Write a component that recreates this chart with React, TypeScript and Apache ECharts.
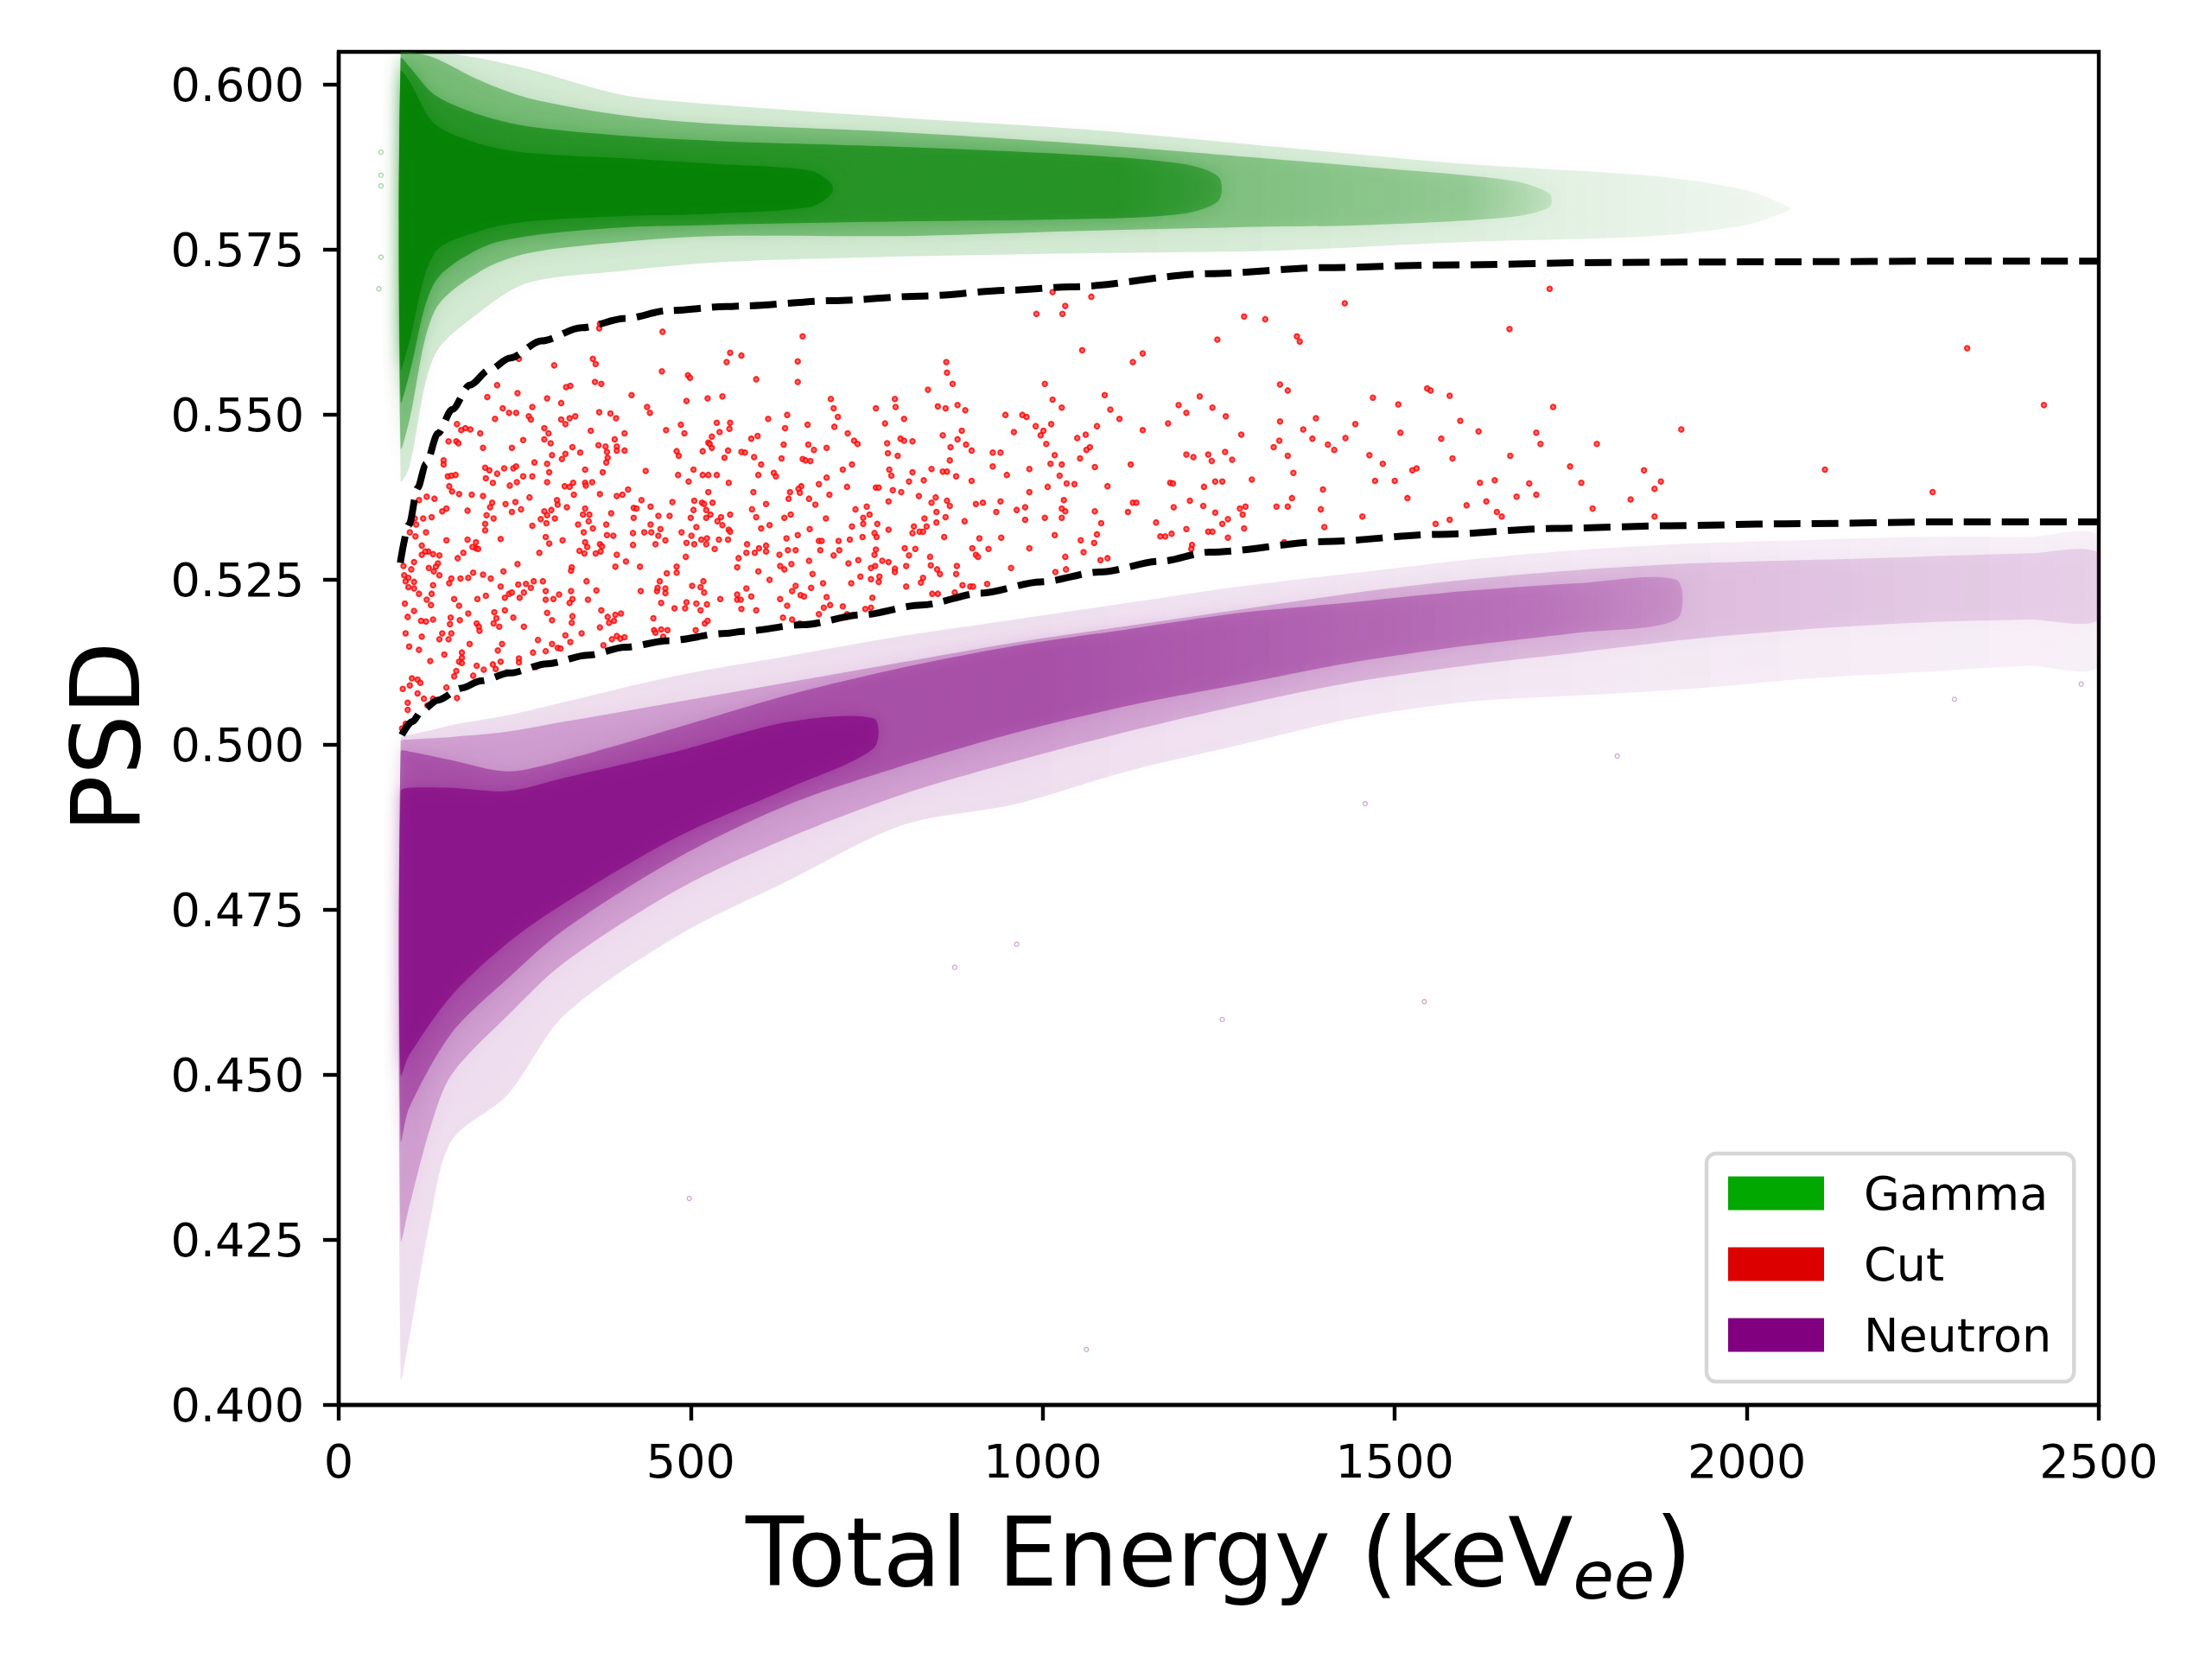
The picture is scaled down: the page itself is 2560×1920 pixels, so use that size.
import React, { useEffect, useRef } from 'react';
import * as echarts from 'echarts';

// ---------- axes ----------
const xTicks = [0, 500, 1000, 1500, 2000, 2500];
const yTicks = [0.4, 0.425, 0.45, 0.475, 0.5, 0.525, 0.55, 0.575, 0.6];
const legendNames = ['Gamma', 'Cut', 'Neutron'];
const legendColors = ['#00a800', '#dd0000', '#800080'];

// ---------- cut boundaries (dashed) ----------
const upperCutE = [87.5, 100, 112, 124, 141, 161, 186, 214, 243, 288, 345, 407, 468, 550, 574, 701, 828, 955, 1039, 1237, 1400, 1563, 1808, 2053, 2298, 2500];
const upperCutPsd = [0.5276, 0.5334, 0.5389, 0.5426, 0.5472, 0.5508, 0.5545, 0.5568, 0.5586, 0.5612, 0.5632, 0.5646, 0.5658, 0.5664, 0.5665, 0.5673, 0.568, 0.5689, 0.5694, 0.5714, 0.5723, 0.5727, 0.5731, 0.5732, 0.5733, 0.5733];
const lowerCutE = [89.6, 104, 120, 141, 174, 202, 243, 296, 354, 407, 468, 550, 574, 659, 743, 828, 913, 997, 1082, 1166, 1237, 1400, 1563, 1727, 1890, 2053, 2298, 2500];
const lowerCutPsd = [0.5015, 0.5035, 0.5054, 0.5068, 0.5086, 0.5097, 0.5109, 0.5123, 0.5136, 0.5148, 0.5158, 0.5169, 0.5172, 0.5182, 0.5197, 0.5212, 0.523, 0.5247, 0.5262, 0.5278, 0.5292, 0.5308, 0.5319, 0.5328, 0.5332, 0.5335, 0.5338, 0.5338];

// ---------- gamma cloud density envelopes ----------
const gammaHaloE = [88, 100, 136, 202, 269, 402, 535, 801, 1067, 1334, 1600, 1866, 2000, 2060];
const gammaHaloLo = [0.54, 0.542, 0.559, 0.5657, 0.57, 0.5718, 0.5731, 0.574, 0.5745, 0.5749, 0.5762, 0.5771, 0.5788, 0.581];
const gammaHaloHi = [0.605, 0.605, 0.605, 0.604, 0.6024, 0.5985, 0.597, 0.595, 0.5932, 0.5906, 0.588, 0.5862, 0.584, 0.5815];
const gammaBodyE = [88, 100, 136, 202, 269, 402, 535, 801, 1067, 1267, 1467, 1666, 1720];
const gammaBodyLo = [0.545, 0.549, 0.5657, 0.5718, 0.5745, 0.5762, 0.5771, 0.5771, 0.5779, 0.5784, 0.5788, 0.58, 0.5815];
const gammaBodyHi = [0.605, 0.605, 0.6041, 0.6006, 0.598, 0.5954, 0.5941, 0.5928, 0.591, 0.5893, 0.5875, 0.5855, 0.5835];
const gammaCoreE = [88, 100, 136, 202, 269, 402, 535, 801, 1067, 1200, 1250];
const gammaCoreLo = [0.552, 0.556, 0.57, 0.5753, 0.5771, 0.5784, 0.5788, 0.5793, 0.5797, 0.5805, 0.5825];
const gammaCoreHi = [0.604, 0.6028, 0.5985, 0.5954, 0.5937, 0.5923, 0.5915, 0.5906, 0.5893, 0.588, 0.586];
const gammaDenseE = [88, 100, 136, 202, 269, 402, 535, 670, 700];
const gammaDenseLo = [0.557, 0.561, 0.5745, 0.5779, 0.5793, 0.5801, 0.5805, 0.5815, 0.5835];
const gammaDenseHi = [0.602, 0.6006, 0.5941, 0.591, 0.5897, 0.5889, 0.588, 0.587, 0.585];
const gammaOutliers = [[60, 0.5898], [60, 0.5863], [60, 0.5847], [60, 0.5739], [57, 0.5691]];

// ---------- neutron cloud density envelopes ----------
const neutronHaloE = [88, 100, 130, 160, 240, 320, 480, 640, 800, 960, 1120, 1280, 1440, 1600, 1760, 1920, 2080, 2240, 2400, 2500];
const neutronHaloLo = [0.404, 0.41, 0.428, 0.44, 0.447, 0.459, 0.471, 0.4795, 0.4878, 0.491, 0.496, 0.5, 0.504, 0.5065, 0.5075, 0.5085, 0.51, 0.511, 0.512, 0.512];
const neutronHaloHi = [0.501, 0.5015, 0.5022, 0.503, 0.5045, 0.5065, 0.5105, 0.5135, 0.5165, 0.519, 0.5215, 0.524, 0.526, 0.528, 0.5295, 0.5305, 0.531, 0.5315, 0.5315, 0.5315];
const neutronBodyE = [88, 100, 130, 160, 240, 320, 480, 640, 800, 960, 1120, 1280, 1440, 1600, 1760, 1920, 2080, 2240, 2400, 2500];
const neutronBodyLo = [0.425, 0.43, 0.442, 0.45, 0.459, 0.467, 0.478, 0.486, 0.4925, 0.4975, 0.502, 0.506, 0.5095, 0.512, 0.514, 0.516, 0.5175, 0.5185, 0.519, 0.519];
const neutronBodyHi = [0.5005, 0.5008, 0.501, 0.5012, 0.502, 0.5035, 0.5065, 0.5095, 0.5125, 0.5155, 0.518, 0.5205, 0.523, 0.525, 0.5265, 0.5275, 0.528, 0.5285, 0.529, 0.529];
const neutronCoreE = [88, 100, 160, 240, 320, 480, 640, 800, 960, 1120, 1280, 1440, 1600, 1760, 1900];
const neutronCoreLo = [0.44, 0.445, 0.4563, 0.4646, 0.472, 0.4828, 0.491, 0.4968, 0.5018, 0.5059, 0.5092, 0.5125, 0.515, 0.517, 0.519];
const neutronCoreHi = [0.499, 0.499, 0.4977, 0.496, 0.4977, 0.5026, 0.5076, 0.5117, 0.515, 0.5175, 0.52, 0.5216, 0.5233, 0.5245, 0.525];
const neutronDenseE = [88, 100, 160, 240, 320, 480, 640, 760];
const neutronDenseLo = [0.45, 0.453, 0.462, 0.47, 0.476, 0.486, 0.4935, 0.4995];
const neutronDenseHi = [0.493, 0.4935, 0.4935, 0.493, 0.495, 0.499, 0.5035, 0.504];
const neutronOutliers = [[498, 0.4313], [1062, 0.4084], [1255, 0.4584], [1542, 0.4611], [875, 0.4663], [963, 0.4698], [1458, 0.4911], [1816, 0.4983], [2295, 0.5069], [2475, 0.5092]];

// ---------- events removed by the cut ----------
const cutPointsLow = [
[371,0.5638],[370,0.5631],[460,0.5626],[256,0.5585],[361,0.5585],[365,0.5577],[306,0.5575],[556,0.5594],[551,0.558],[572,0.559],
[459,0.5566],[496,0.556],[499,0.5556],[364,0.555],[373,0.5547],[225,0.5545],[323,0.5542],[329,0.5544],[416,0.553],[254,0.5533],
[211,0.5527],[296,0.5525],[316,0.5518],[494,0.5521],[524,0.5525],[545,0.5528],[275,0.5512],[233,0.551],[242,0.5503],[252,0.5503],
[222,0.5494],[270,0.5498],[273,0.5493],[316,0.5493],[322,0.5486],[328,0.5495],[336,0.5498],[370,0.5504],[386,0.5502],[394,0.5495],
[438,0.5512],[442,0.5503],[486,0.5485],[491,0.5472],[537,0.5488],[556,0.5488],[555,0.5479],[541,0.5474],[465,0.5477],[168,0.5486],
[174,0.5477],[180,0.548],[187,0.5478],[201,0.5472],[292,0.548],[298,0.5472],[358,0.5476],[406,0.5472],[262,0.5462],[292,0.5463],
[301,0.5457],[156,0.546],[167,0.546],[170,0.5457],[205,0.545],[246,0.545],[332,0.5451],[343,0.5443],[369,0.5454],[379,0.5452],
[381,0.5444],[382,0.5435],[395,0.5452],[395,0.5446],[406,0.5446],[392,0.5463],[530,0.5467],[525,0.5458],[527,0.5456],[530,0.545],
[517,0.5445],[553,0.5446],[548,0.5435],[480,0.5445],[483,0.5438],[572,0.5444],[303,0.5439],[322,0.5441],[317,0.5433],[380,0.5428],
[278,0.5428],[296,0.5426],[149,0.5431],[149,0.5425],[208,0.542],[214,0.5416],[235,0.5419],[248,0.5419],[252,0.5422],[225,0.5411],
[262,0.5407],[275,0.5407],[299,0.5413],[350,0.5417],[375,0.5413],[436,0.5415],[504,0.5417],[482,0.5409],[497,0.5399],[517,0.5409],
[525,0.5409],[537,0.5409],[554,0.5397],[155,0.5407],[160,0.5408],[166,0.5409],[209,0.5404],[219,0.5397],[243,0.5393],[253,0.5398],
[296,0.5398],[321,0.5392],[328,0.5391],[333,0.5397],[350,0.5397],[351,0.5393],[360,0.5398],[157,0.5392],[161,0.5384],[171,0.538],
[189,0.5379],[205,0.5377],[271,0.5375],[334,0.5379],[371,0.538],[395,0.5377],[403,0.5379],[411,0.5387],[430,0.5371],[474,0.5368],
[525,0.5383],[125,0.5376],[136,0.5373],[114,0.5371],[218,0.5367],[215,0.536],[237,0.5365],[251,0.5368],[246,0.5353],[259,0.5357],
[183,0.5355],[153,0.5358],[147,0.5354],[132,0.5345],[120,0.5343],[110,0.5334],[108,0.5343],[292,0.5354],[296,0.5348],[302,0.5356],
[295,0.5336],[307,0.5343],[310,0.5371],[311,0.5364],[324,0.536],[287,0.5342],[350,0.5358],[347,0.5349],[356,0.5349],[340,0.5334],
[355,0.5339],[361,0.5328],[387,0.5351],[380,0.5334],[419,0.5359],[423,0.5358],[419,0.5344],[443,0.5361],[443,0.5334],[454,0.5347],
[457,0.5327],[470,0.5347],[505,0.537],[516,0.5367],[519,0.5365],[522,0.5356],[531,0.5367],[528,0.5349],[504,0.5356],[500,0.5344],
[522,0.5344],[538,0.5339],[543,0.5345],[545,0.5333],[508,0.533],[556,0.5349],[554,0.5326],[556,0.5323],[487,0.5322],[501,0.5317],
[494,0.5306],[505,0.5304],[515,0.5311],[522,0.5304],[523,0.5313],[540,0.5311],[553,0.5311],[534,0.5297],[493,0.5285],[568,0.5283],
[566,0.5269],[454,0.5317],[464,0.531],[444,0.5322],[434,0.5322],[450,0.5304],[418,0.5321],[418,0.5303],[395,0.5288],[408,0.5278],
[428,0.527],[393,0.527],[390,0.5317],[381,0.5318],[371,0.5304],[374,0.5301],[365,0.529],[372,0.5293],[350,0.5307],[342,0.5294],
[349,0.529],[353,0.53],[348,0.5322],[318,0.531],[294,0.5315],[299,0.5305],[285,0.5291],[230,0.5312],[254,0.5274],[275,0.5332],
[220,0.5343],[210,0.5348],[208,0.5335],[208,0.5325],[183,0.5311],[195,0.5307],[195,0.5298],[190,0.53],[198,0.5297],[169,0.5283],
[177,0.5291],[153,0.531],[143,0.5287],[141,0.5275],[134,0.5289],[127,0.5293],[123,0.5293],[118,0.5288],[107,0.5277],[103,0.5266],
[92,0.5271],[124,0.5322],[101,0.5322],[109,0.5316],[118,0.5302],[128,0.5268],[135,0.5263],[138,0.527],[143,0.5257],[93,0.5257],
[99,0.5253],[95,0.5248],[107,0.5247],[99,0.5239],[107,0.5237],[114,0.5229],[132,0.5229],[134,0.5242],[125,0.522],[131,0.5212],
[94,0.5214],[107,0.5203],[98,0.5194],[117,0.5188],[124,0.5187],[134,0.519],[95,0.5169],[118,0.5164],[100,0.5149],[114,0.5144],
[157,0.5245],[160,0.5252],[173,0.5252],[184,0.5253],[191,0.5261],[205,0.5258],[216,0.5252],[234,0.5263],[255,0.5243],[266,0.5244],
[277,0.5248],[290,0.5248],[230,0.524],[236,0.5223],[242,0.5229],[246,0.5231],[257,0.5223],[263,0.5231],[273,0.5238],[294,0.5233],
[294,0.522],[305,0.5221],[313,0.5228],[330,0.5233],[332,0.5221],[328,0.5215],[352,0.5248],[366,0.5234],[354,0.522],[331,0.5269],
[330,0.5264],[429,0.5233],[452,0.5233],[453,0.5238],[456,0.5248],[464,0.5237],[464,0.523],[466,0.526],[480,0.527],[480,0.5261],
[502,0.5241],[514,0.5239],[518,0.5248],[519,0.5231],[542,0.5221],[566,0.5228],[566,0.522],[571,0.522],[572,0.5206],[458,0.5215],
[477,0.5207],[494,0.5216],[492,0.5207],[508,0.5214],[514,0.5204],[523,0.5213],[520,0.5184],[524,0.5188],[507,0.5174],[447,0.5192],
[448,0.5174],[458,0.5175],[467,0.5174],[461,0.5164],[450,0.517],[393,0.5197],[401,0.5199],[391,0.5188],[384,0.5185],[382,0.5194],
[373,0.5204],[371,0.5178],[345,0.5169],[332,0.5195],[331,0.5185],[322,0.5166],[329,0.5156],[303,0.5189],[296,0.52],[283,0.5159],
[294,0.5142],[303,0.5153],[311,0.5147],[315,0.5146],[276,0.514],[263,0.5179],[248,0.5193],[236,0.5204],[228,0.5179],[220,0.5184],
[221,0.5201],[224,0.5192],[209,0.5226],[197,0.5221],[196,0.5184],[199,0.5179],[200,0.5173],[184,0.5199],[171,0.5211],[164,0.5221],
[172,0.5189],[159,0.5193],[158,0.5183],[160,0.5169],[156,0.516],[143,0.516],[147,0.5169],[186,0.5153],[175,0.514],[175,0.5132],
[171,0.5126],[175,0.5124],[150,0.5137],[130,0.5127],[167,0.5112],[164,0.5104],[191,0.5105],[196,0.512],[206,0.5114],[219,0.5122],
[223,0.5115],[230,0.5126],[226,0.5143],[232,0.5153],[256,0.5131],[256,0.5125],[239,0.511],[280,0.5118],[388,0.516],[395,0.5165],
[400,0.5161],[406,0.5163],[376,0.5151],[104,0.5101],[112,0.5099],[116,0.5094],[101,0.509],[91,0.5085],[112,0.5078],[121,0.507],
[134,0.507],[126,0.506],[98,0.5064],[98,0.5053],[110,0.5042],[95,0.5032],[90,0.5025],[153,0.5087],[168,0.5071]
];
const cutPointsMid = [
[1014,0.5686],[1069,0.5679],[1032,0.5665],[991,0.5653],[1028,0.5653],[659,0.5619],[652,0.5581],[652,0.555],[593,0.5554],[863,0.558],
[864,0.5564],[872,0.5547],[837,0.5538],[1056,0.5598],[1128,0.558],[1142,0.5593],[1003,0.5547],[1088,0.553],[1223,0.5528],[699,0.5524],
[790,0.5524],[791,0.5512],[763,0.551],[851,0.5513],[862,0.551],[879,0.5515],[890,0.5507],[637,0.55],[703,0.551],[709,0.5497],
[610,0.5494],[803,0.5494],[776,0.5487],[666,0.5485],[634,0.548],[704,0.5482],[947,0.55],[971,0.55],[977,0.5497],[1014,0.5523],
[1027,0.5511],[1096,0.5508],[1109,0.5494],[1193,0.5515],[1204,0.5503],[1178,0.5487],[1142,0.5477],[1077,0.5483],[990,0.5483],[1001,0.5476],
[997,0.5469],[1012,0.5486],[1049,0.5465],[1061,0.547],[1005,0.5456],[959,0.5474],[885,0.5476],[879,0.5463],[858,0.5469],[798,0.5464],
[803,0.5461],[815,0.546],[779,0.5457],[723,0.5472],[732,0.5461],[737,0.5456],[586,0.5464],[595,0.5468],[632,0.5455],[667,0.5455],
[675,0.5447],[693,0.545],[577,0.5443],[590,0.5436],[629,0.5434],[659,0.5433],[663,0.5431],[670,0.543],[600,0.5425],[869,0.5451],
[891,0.5455],[899,0.5446],[929,0.5443],[940,0.5443],[1067,0.5451],[1062,0.5447],[1053,0.5434],[1017,0.5439],[1011,0.5426],[1027,0.5425],
[1074,0.5421],[1125,0.5425],[1204,0.544],[1214,0.5436],[1235,0.544],[780,0.5442],[794,0.5438],[868,0.5431],[929,0.5422],[981,0.5418],
[842,0.5418],[858,0.5414],[864,0.5414],[877,0.5407],[899,0.54],[949,0.5409],[1024,0.5408],[1034,0.5396],[1045,0.5395],[1007,0.5391],
[1092,0.5392],[1181,0.5397],[1185,0.5396],[1229,0.5391],[782,0.5417],[785,0.5408],[815,0.5413],[831,0.5401],[810,0.5399],[729,0.5425],
[716,0.5417],[693,0.5405],[682,0.5395],[618,0.5412],[621,0.5407],[596,0.5409],[657,0.5392],[653,0.5388],[655,0.5382],[641,0.5383],
[639,0.5373],[589,0.5383],[722,0.5391],[697,0.5379],[668,0.5373],[677,0.5364],[607,0.5365],[587,0.5357],[593,0.5345],[763,0.539],
[767,0.539],[787,0.5386],[799,0.5383],[824,0.5377],[848,0.5375],[842,0.5367],[864,0.537],[868,0.5362],[781,0.5369],[750,0.5361],
[734,0.5357],[745,0.5344],[754,0.5349],[745,0.5335],[765,0.5335],[729,0.5331],[692,0.5343],[669,0.5327],[633,0.5344],[642,0.5349],
[612,0.5333],[600,0.5328],[832,0.5343],[849,0.5353],[862,0.5345],[849,0.5337],[817,0.5331],[835,0.5331],[825,0.5323],[830,0.5323],
[815,0.5321],[889,0.5339],[905,0.5365],[915,0.5367],[940,0.5369],[934,0.5353],[963,0.5356],[975,0.536],[975,0.5341],[981,0.5383],
[1003,0.5344],[1027,0.5344],[1027,0.5358],[1030,0.5371],[1032,0.5354],[1074,0.5354],[1083,0.5336],[1077,0.5319],[1073,0.5306],[1054,0.531],
[1058,0.5292],[1121,0.5353],[1128,0.5367],[1133,0.5367],[1161,0.5337],[1167,0.5316],[1174,0.5316],[1183,0.532],[1204,0.5327],[1212,0.5303],
[1211,0.5297],[1209,0.537],[1228,0.5362],[1235,0.5323],[1186,0.536],[781,0.5326],[761,0.5321],[764,0.5315],[744,0.5315],[726,0.5311],
[710,0.5309],[652,0.5318],[636,0.5313],[682,0.5309],[686,0.5309],[580,0.5304],[579,0.5291],[597,0.5298],[607,0.5302],[607,0.5293],
[591,0.5291],[626,0.5288],[638,0.5295],[649,0.5295],[684,0.5295],[711,0.5295],[703,0.5287],[763,0.5296],[761,0.5288],[804,0.5298],
[819,0.5297],[810,0.5287],[860,0.5315],[910,0.5313],[941,0.5314],[900,0.5298],[923,0.5297],[905,0.5288],[908,0.5285],[981,0.5298],
[1017,0.5318],[1032,0.5285],[1082,0.528],[1092,0.5283],[1033,0.5266],[1018,0.5262],[955,0.5268],[840,0.5285],[841,0.5272],[878,0.5271],
[877,0.5259],[850,0.5266],[854,0.5259],[790,0.5267],[790,0.5262],[806,0.5271],[772,0.5279],[781,0.5277],[762,0.5271],[756,0.5268],
[738,0.528],[724,0.5275],[668,0.5279],[643,0.5274],[627,0.5271],[633,0.5266],[596,0.5263],[673,0.5259],[612,0.525],[741,0.5255],
[756,0.5251],[768,0.5255],[767,0.5247],[728,0.5245],[688,0.5245],[671,0.5238],[649,0.5241],[644,0.5233],[579,0.5237],[586,0.5225],
[656,0.5227],[661,0.5225],[693,0.5224],[698,0.5212],[689,0.5208],[716,0.521],[682,0.5198],[637,0.5211],[627,0.5221],[593,0.5204],
[631,0.5193],[644,0.519],[655,0.5184],[758,0.5223],[756,0.5208],[748,0.5206],[806,0.524],[827,0.5246],[830,0.5253],[843,0.5229],
[851,0.5229],[875,0.5231],[886,0.5242],[897,0.524],[901,0.524],[921,0.5244],[722,0.5198],[731,0.5196]
];
const cutPointsHigh = [
[1720,0.5691],[1429,0.5669],[1286,0.5649],[1316,0.5645],[1248,0.5614],[1361,0.5619],[1365,0.5611],[1663,0.563],[2313,0.5601],[1337,0.5546],
[1348,0.5537],[1546,0.554],[1551,0.5537],[1578,0.5529],[1469,0.5526],[1505,0.5516],[1725,0.5512],[2422,0.5515],[1241,0.5511],[1260,0.5498],
[1337,0.549],[1388,0.5495],[1444,0.5486],[1593,0.5491],[1370,0.5478],[1619,0.5475],[1701,0.5473],[1907,0.5478],[1282,0.547],[1336,0.5461],
[1383,0.5464],[1430,0.5465],[1508,0.5473],[1566,0.5464],[1707,0.5456],[1787,0.5456],[1328,0.5451],[1405,0.5455],[1414,0.5447],[1259,0.5444],
[1240,0.543],[1269,0.5432],[1348,0.5438],[1464,0.5439],[1483,0.5426],[1582,0.5434],[1664,0.5438],[1749,0.5422],[1854,0.5416],[2111,0.5417],
[1525,0.5416],[1531,0.5419],[1356,0.5412],[1297,0.5402],[1245,0.5399],[1255,0.5399],[1472,0.54],[1500,0.54],[1621,0.5397],[1642,0.5401],
[1691,0.5396],[1765,0.5397],[1878,0.5399],[1869,0.5388],[1398,0.5387],[1354,0.5374],[1518,0.5374],[1673,0.5376],[1701,0.5379],[1835,0.5372],
[2264,0.5383],[1280,0.5358],[1288,0.5361],[1332,0.5361],[1348,0.5361],[1395,0.5357],[1602,0.5363],[1630,0.5369],[1781,0.5358],[1245,0.5352],
[1284,0.5349],[1263,0.5342],[1255,0.5335],[1645,0.5353],[1652,0.5346],[1454,0.5346],[1869,0.5346],[1578,0.5341],[1558,0.5335],[1286,0.5328],
[1400,0.533],[1241,0.5323],[1263,0.5314],[1343,0.5307]
];

const FONT = 'DejaVu Sans';
// density fade along energy (style): [energy, relative opacity]
const gammaFade = [[88, 1], [1100, 1], [1600, 0.75], [2100, 0.35]];
const neutronFade = [[88, 1], [1000, 1], [1700, 0.72], [2500, 0.45]];

function band(name: string, E: number[], lo: number[], hi: number[], rgb: string, opacity: number, fade: number[][]) {
  const e0 = E[0];
  const e1 = E[E.length - 1];
  const stops = fade
    .map(([e, f]) => ({ offset: Math.min(1, Math.max(0, (e - e0) / (e1 - e0))), color: `rgba(${rgb},${(opacity * f).toFixed(3)})` }));
  return {
    type: 'custom',
    name,
    clip: true,
    silent: true,
    z: 1,
    itemStyle: { color: `rgb(${rgb})` },
    data: E.map((e, i) => [e, lo[i], hi[i]]),
    encode: { x: 0, y: [1, 2] },
    renderItem: (params: any, api: any) => {
      if (params.dataIndex !== 0) return null;
      const top = E.map((e, i) => api.coord([e, hi[i]]));
      const bottom = E.map((e, i) => api.coord([e, lo[i]])).reverse();
      return {
        type: 'polygon',
        shape: { points: top.concat(bottom), smooth: 0.3 },
        style: {
          fill: new echarts.graphic.LinearGradient(0, 0, 1, 0, stops),
          stroke: null,
          shadowBlur: 18,
          shadowColor: `rgba(${rgb},${(opacity * 0.7).toFixed(3)})`,
        },
      };
    },
  };
}

function outliers(name: string, pts: number[][], color: string) {
  return {
    type: 'scatter',
    name,
    silent: true,
    z: 2,
    symbol: 'circle',
    symbolSize: 5,
    itemStyle: { color: 'rgba(255,255,255,0)', borderColor: color, borderWidth: 1.3 },
    data: pts,
  };
}

export default function App() {
  const ref = useRef<HTMLDivElement>(null);
  useEffect(() => {
    document.body.style.margin = '0';
    const chart = echarts.init(ref.current as HTMLDivElement, null, { renderer: 'svg' });
    const green = '0,128,0';
    const purple = '128,0,128';
    const option: any = {
      animation: false,
      backgroundColor: '#ffffff',
      textStyle: { fontFamily: FONT },
      grid: {
        left: 392, top: 60, width: 2037, height: 1566,
        show: true, borderColor: '#000', borderWidth: 4.4, backgroundColor: 'transparent',
        containLabel: false, outerBoundsMode: 'none',
      },
      xAxis: {
        type: 'value', min: xTicks[0], max: xTicks[xTicks.length - 1], interval: 500,
        axisLine: { show: true, onZero: false, lineStyle: { color: '#000', width: 4.4 } },
        axisTick: { show: true, length: 18, lineStyle: { color: '#000', width: 4.4 } },
        axisLabel: { fontSize: 54, color: '#000', fontFamily: FONT, margin: 38, formatter: (v: number) => String(v) },
        splitLine: { show: false },
        name: '{m|Total Energy (keV}{s|ee}{m|)}',
        nameLocation: 'middle',
        nameGap: 106,
        nameTextStyle: {
          color: '#000', fontFamily: FONT,
          rich: {
            m: { fontSize: 110, lineHeight: 130, fontFamily: FONT, color: '#000' },
            s: { fontSize: 77, lineHeight: 74, fontStyle: 'italic', verticalAlign: 'bottom', fontFamily: FONT, color: '#000' },
          },
        },
      },
      yAxis: {
        type: 'value', min: yTicks[0], max: 0.605, interval: 0.025,
        axisLine: { show: true, onZero: false, lineStyle: { color: '#000', width: 4.4 } },
        axisTick: { show: true, length: 18, lineStyle: { color: '#000', width: 4.4 }, customValues: yTicks },
        axisLabel: {
          fontSize: 54, color: '#000', fontFamily: FONT, margin: 40,
          customValues: yTicks,
          formatter: (v: number) => v.toFixed(3),
        },
        splitLine: { show: false },
        name: 'PSD',
        nameLocation: 'middle',
        nameRotate: 90,
        nameGap: 214,
        nameTextStyle: { fontSize: 110, color: '#000', fontFamily: FONT, padding: [0, 20, 0, 0] },
      },
      legend: {
        orient: 'vertical', left: 1975, top: 1335,
        itemWidth: 111, itemHeight: 39, itemGap: 22, icon: 'rect',
        selectedMode: false,
        textStyle: { fontSize: 54, color: '#000', fontFamily: FONT, lineHeight: 60, padding: [0, 0, 0, 41] },
        backgroundColor: '#ffffff', borderColor: '#d6d6d6', borderWidth: 4.4, borderRadius: 11,
        padding: [16, 26, 24, 25],
        data: legendNames.map((n, i) => ({ name: n, itemStyle: { color: legendColors[i], opacity: 1, borderWidth: 0 } })),
      },
      series: [
        band('Neutron', neutronHaloE, neutronHaloLo, neutronHaloHi, purple, 0.12, neutronFade),
        band('Neutron', neutronBodyE, neutronBodyLo, neutronBodyHi, purple, 0.26, neutronFade),
        band('Neutron', neutronCoreE, neutronCoreLo, neutronCoreHi, purple, 0.42, neutronFade),
        band('Neutron', neutronDenseE, neutronDenseLo, neutronDenseHi, purple, 0.62, neutronFade),
        outliers('Neutron', neutronOutliers, 'rgba(128,0,128,0.45)'),
        band('Gamma', gammaHaloE, gammaHaloLo, gammaHaloHi, green, 0.16, gammaFade),
        band('Gamma', gammaBodyE, gammaBodyLo, gammaBodyHi, green, 0.38, gammaFade),
        band('Gamma', gammaCoreE, gammaCoreLo, gammaCoreHi, green, 0.58, gammaFade),
        band('Gamma', gammaDenseE, gammaDenseLo, gammaDenseHi, green, 0.75, gammaFade),
        outliers('Gamma', gammaOutliers, 'rgba(0,128,0,0.45)'),
        {
          type: 'scatter', name: 'Cut', silent: true, z: 3,
          symbol: 'circle', symbolSize: 5.5,
          itemStyle: { color: '#ff5050', borderColor: '#ff0000', borderWidth: 2 },
          data: [...cutPointsLow, ...cutPointsMid, ...cutPointsHigh],
        },
        {
          type: 'line', name: 'upperCut', silent: true, z: 4, symbol: 'none',
          smooth: 0.3, smoothMonotone: 'x',
          lineStyle: { color: '#000', width: 8, type: [31, 13] },
          data: upperCutE.map((e, i) => [e, upperCutPsd[i]]),
        },
        {
          type: 'line', name: 'lowerCut', silent: true, z: 4, symbol: 'none',
          smooth: 0.3, smoothMonotone: 'x',
          lineStyle: { color: '#000', width: 8, type: [31, 13] },
          data: lowerCutE.map((e, i) => [e, lowerCutPsd[i]]),
        },
      ],
    };
    chart.setOption(option);
    return () => chart.dispose();
  }, []);
  return <div ref={ref} style={{ width: 2560, height: 1920 }} />;
}
